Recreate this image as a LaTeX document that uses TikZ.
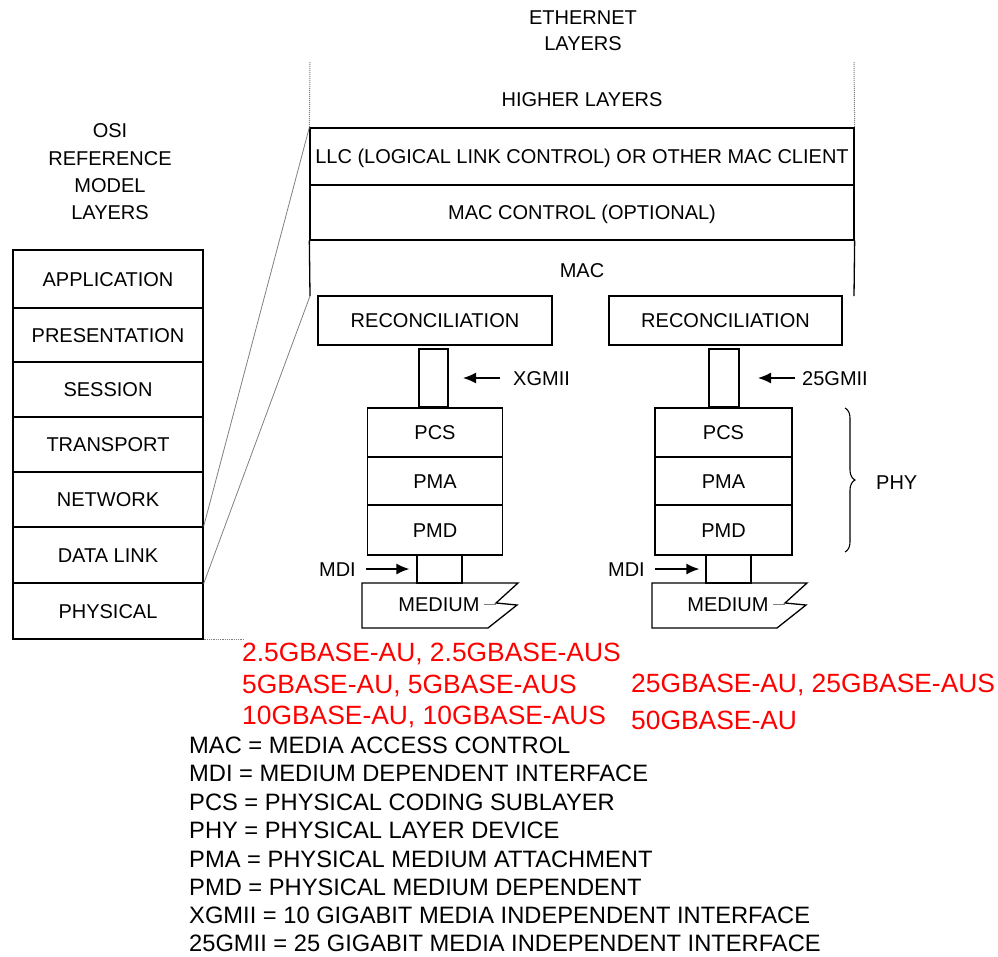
\documentclass[tikz,border=0pt]{standalone}
\usepackage{fontspec}
\setmainfont{Liberation Sans}
\usetikzlibrary{arrows.meta,decorations.pathreplacing}
\begin{document}
\begin{tikzpicture}[x=1pt,y=-1pt,
  lbl/.style={inner sep=0pt, text height=14.4pt, text depth=0pt, font=\fontsize{20}{24}\selectfont},
  box/.style={lbl, draw, line width=1.3pt},
  legend/.style={inner sep=0pt, text height=17pt, text depth=0pt, anchor=west, font=\fontsize{23.7}{28}\selectfont},
  redt/.style={inner sep=0pt, text height=18.9pt, text depth=0pt, anchor=west, text=red, font=\fontsize{26.4}{30}\selectfont},
  wall/.style={line width=1.3pt},
  guide/.style={gray, line width=0.8pt},
  arr/.style={line width=1.4pt, -{Latex[length=13pt,width=11pt]}},
]
\useasboundingbox (0,0) rectangle (998,956);

% OSI header
\node[lbl] (o1) at (110,130) {OSI};
\node[lbl] (o2) at (110,158) {REFERENCE};
\node[lbl] (o3) at (110,185) {MODEL};
\node[lbl] (o4) at (110,212) {LAYERS};

% OSI stack
\node[box, minimum width=190pt, minimum height=58pt] (app) at (108,279) {APPLICATION};
\node[box, minimum width=190pt, minimum height=54pt] (pres) at (108,335) {PRESENTATION};
\node[box, minimum width=190pt, minimum height=55pt] (sess) at (108,389.5) {SESSION};
\node[box, minimum width=190pt, minimum height=55pt] (trans) at (108,444.5) {TRANSPORT};
\node[box, minimum width=190pt, minimum height=55pt] (net) at (108,499.5) {NETWORK};
\node[box, minimum width=190pt, minimum height=56pt] (dl) at (108,555) {DATA LINK};
\node[box, minimum width=190pt, minimum height=56pt] (phys) at (108,611) {PHYSICAL};

% Ethernet header
\node[lbl] (e1) at (583,17) {ETHERNET};
\node[lbl] (e2) at (583,43) {LAYERS};
\node[lbl] (hl) at (582,99) {HIGHER LAYERS};
\node[box, minimum width=544pt, minimum height=57pt] (llc) at (582,156.5) {LLC (LOGICAL LINK CONTROL) OR OTHER MAC CLIENT};
\node[box, minimum width=544pt, minimum height=55pt] (macc) at (582,212.5) {MAC CONTROL (OPTIONAL)};
\node[lbl] (mac) at (582,270) {MAC};
\coordinate (macbl) at (310,296);
\coordinate (macbr) at (854,296);
\coordinate (toptl) at (310,62);
\coordinate (toptr) at (854,62);
\draw[wall] (macc.south west) -- (macbl);
\draw[wall] (macc.south east) -- (macbr);
\draw[gray, line width=1pt, densely dotted] (toptl) -- (llc.north west);
\draw[gray, line width=1pt, densely dotted] (toptr) -- (llc.north east);

% Left stack
\node[box, minimum width=234pt, minimum height=49pt] (recl) at (435,320.5) {RECONCILIATION};
\node[box, minimum width=29pt, minimum height=58pt] (xgl) at (433.5,378) {};
\node[box, minimum width=135pt, minimum height=49pt] (pcsl) at (435,432.5) {PCS};
\node[box, minimum width=135pt, minimum height=48pt] (pmal) at (435,481) {PMA};
\node[box, minimum width=135pt, minimum height=50pt] (pmdl) at (435,530) {PMD};
\node[box, minimum width=45pt, minimum height=28pt] (mdibl) at (439.5,569) {};
\draw[line width=1.3pt] (362,583) -- (518,583) -- (496,603) -- (517,605) -- (488,628) -- (362,628) -- cycle;
\draw[gray, line width=0.8pt] (484,604) -- (496,604);
\node[lbl] (medl) at (439,604) {MEDIUM};

% Right stack
\node[box, minimum width=233pt, minimum height=49pt] (recr) at (725.5,320.5) {RECONCILIATION};
\node[box, minimum width=30pt, minimum height=58pt] (xgr) at (724,378) {};
\node[box, minimum width=137pt, minimum height=49pt] (pcsr) at (723.5,432.5) {PCS};
\node[box, minimum width=137pt, minimum height=48pt] (pmar) at (723.5,481) {PMA};
\node[box, minimum width=137pt, minimum height=50pt] (pmdr) at (723.5,530) {PMD};
\node[box, minimum width=45pt, minimum height=28pt] (mdibr) at (728.5,569) {};
\draw[line width=1.3pt] (652,583) -- (807,583) -- (785,603) -- (806,605) -- (777,628) -- (652,628) -- cycle;
\draw[gray, line width=0.8pt] (773,604) -- (785,604);
\node[lbl] (medr) at (728,604) {MEDIUM};

% interface labels
\node[lbl, anchor=west] (xgt) at (513,378) {XGMII};
\coordinate (xgtip) at (463,378);
\draw[arr] ([xshift=-13pt]xgt.west) -- (xgtip);
\node[lbl, anchor=west] (g25t) at (802,378) {25GMII};
\coordinate (g25tip) at (758,378);
\draw[arr] ([xshift=-7pt]g25t.west) -- (g25tip);

\node[lbl, anchor=east] (mdil) at (356,569) {MDI};
\draw[arr, shorten >=7pt] ([xshift=10pt]mdil.east) -- (mdibl.west);
\node[lbl, anchor=east] (mdir) at (645,569) {MDI};
\draw[arr, shorten >=6pt] ([xshift=10pt]mdir.east) -- (mdibr.west);

% PHY brace
\coordinate (bt) at (845,408);
\coordinate (bb) at (845,552);
\draw[decorate, decoration={brace, amplitude=10pt}, line width=1.1pt] (bt) -- (bb);
\node[lbl, anchor=west] (phy) at (876,482) {PHY};

% guide lines
\draw[guide] (dl.north east) -- (llc.north west);
\draw[guide] (dl.south east) -- (macbl);
\draw[guide, densely dotted, line width=1pt] (phys.south east) -- ++(40,0);

% red variants
\node[redt] (r1) at (242,652) {2.5GBASE-AU, 2.5GBASE-AUS};
\node[redt] (r2) at (242,684) {5GBASE-AU, 5GBASE-AUS};
\node[redt] (r3) at (242,715) {10GBASE-AU, 10GBASE-AUS};
\node[redt] (r4) at (631,683) {25GBASE-AU, 25GBASE-AUS};
\node[redt] (r5) at (631,720) {50GBASE-AU};

% legend
\node[legend] (l1) at (189,745) {MAC = MEDIA ACCESS CONTROL};
\node[legend] (l2) at (189,773) {MDI = MEDIUM DEPENDENT INTERFACE};
\node[legend] (l3) at (189,802) {PCS = PHYSICAL CODING SUBLAYER};
\node[legend] (l4) at (189,830) {PHY = PHYSICAL LAYER DEVICE};
\node[legend] (l5) at (189,859) {PMA = PHYSICAL MEDIUM ATTACHMENT};
\node[legend] (l6) at (189,887) {PMD = PHYSICAL MEDIUM DEPENDENT};
\node[legend] (l7) at (189,915) {XGMII = 10 GIGABIT MEDIA INDEPENDENT INTERFACE};
\node[legend] (l8) at (189,943) {25GMII = 25 GIGABIT MEDIA INDEPENDENT INTERFACE};
\end{tikzpicture}
\end{document}
